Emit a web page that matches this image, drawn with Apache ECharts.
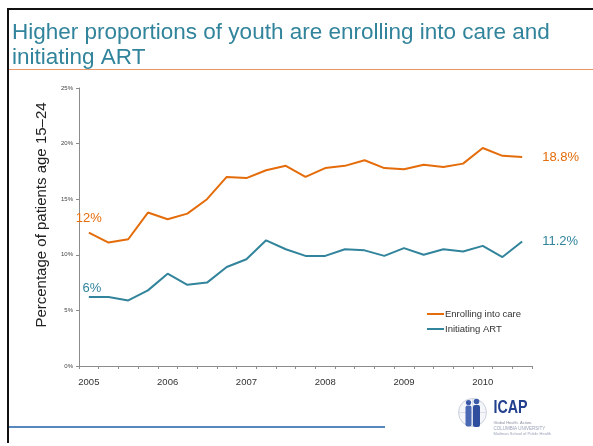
<!DOCTYPE html>
<html>
<head>
<meta charset="utf-8">
<script src="https://cdn.jsdelivr.net/npm/echarts@6/dist/echarts.min.js"></script>
<style>
  html, body { margin: 0; padding: 0; background: #ffffff; }
  #chart { width: 593px; height: 446px; }
</style>
</head>
<body>
<div id="chart"></div>
<script>
// Quarterly share of patients aged 15–24, 2005 Q1 – 2010 Q3
const quarters = [
  '2005Q1', '2005Q2', '2005Q3', '2005Q4',
  '2006Q1', '2006Q2', '2006Q3', '2006Q4',
  '2007Q1', '2007Q2', '2007Q3', '2007Q4',
  '2008Q1', '2008Q2', '2008Q3', '2008Q4',
  '2009Q1', '2009Q2', '2009Q3', '2009Q4',
  '2010Q1', '2010Q2', '2010Q3'
];
const enrolling = [12.0, 11.1, 11.4, 13.8, 13.2, 13.7, 15.0, 17.0, 16.9, 17.6, 18.0, 17.0,
                   17.8, 18.0, 18.5, 17.8, 17.7, 18.1, 17.9, 18.2, 19.6, 18.9, 18.8];
const initiating = [6.2, 6.2, 5.9, 6.8, 8.3, 7.3, 7.5, 8.9, 9.6, 11.3, 10.5, 9.9,
                    9.9, 10.5, 10.4, 9.9, 10.6, 10.0, 10.5, 10.3, 10.8, 9.8, 11.2];
const yTicks = [0, 5, 10, 15, 20, 25];
const seriesNames = ['Enrolling into care', 'Initiating ART'];

const ORANGE = '#E46C0A';
const TEAL = '#31849B';
const FONT = '"Liberation Sans", Arial, sans-serif';

// first point labelled as a whole percent, last point with one decimal
function withEndLabels(values, color, firstDist, firstOffset) {
  const last = values.length - 1;
  return values.map((v, i) => {
    if (i === 0) {
      return { value: v, label: { show: true, position: 'top', distance: firstDist, offset: firstOffset,
        formatter: Math.round(v) + '%', color: color, fontSize: 13, fontFamily: FONT } };
    }
    if (i === last) {
      return { value: v, label: { show: true, position: 'right', distance: 20,
        formatter: v.toFixed(1) + '%', color: color, fontSize: 13, fontFamily: FONT } };
    }
    return v;
  });
}

const chart = echarts.init(document.getElementById('chart'), null, { renderer: 'canvas' });

chart.setOption({
  animation: false,
  backgroundColor: '#ffffff',
  grid: { left: 79, right: 61, top: 88, bottom: 80, containLabel: false },
  legend: {
    data: seriesNames,
    orient: 'vertical',
    left: 422,
    top: 304,
    itemWidth: 17,
    itemHeight: 2,
    itemGap: 5,
    icon: 'rect',
    textStyle: { fontFamily: FONT, fontSize: 9.5, color: '#333', padding: [0, 0, 0, -4] }
  },
  xAxis: {
    type: 'category',
    data: quarters,
    boundaryGap: true,
    axisLine: { lineStyle: { color: '#8c8c8c', width: 1 } },
    axisTick: { show: true, interval: 0, length: 3, lineStyle: { color: '#8c8c8c' } },
    axisLabel: {
      interval: 3,
      margin: 11,
      fontFamily: FONT,
      fontSize: 9.5,
      color: '#333',
      formatter: (q) => q.slice(0, 4)
    },
    splitLine: { show: false }
  },
  yAxis: {
    type: 'value',
    min: yTicks[0],
    max: yTicks[yTicks.length - 1],
    interval: 5,
    axisLine: { show: true, lineStyle: { color: '#8c8c8c', width: 1 } },
    axisTick: { show: true, length: 3, lineStyle: { color: '#8c8c8c' } },
    axisLabel: { fontFamily: FONT, fontSize: 6, color: '#444', margin: 6, formatter: '{value}%' },
    splitLine: { show: false }
  },
  series: [
    {
      name: seriesNames[0],
      type: 'line',
      data: withEndLabels(enrolling, ORANGE, 8, [0, 0]),
      symbol: 'circle',
      symbolSize: 0,
      showSymbol: true,
      lineStyle: { color: ORANGE, width: 2 },
      itemStyle: { color: ORANGE }
    },
    {
      name: seriesNames[1],
      type: 'line',
      data: withEndLabels(initiating, TEAL, 2, [3, 0]),
      symbol: 'circle',
      symbolSize: 0,
      showSymbol: true,
      lineStyle: { color: TEAL, width: 2 },
      itemStyle: { color: TEAL }
    }
  ],
  graphic: [
    // slide frame
    { type: 'line', shape: { x1: 7, y1: 9, x2: 593, y2: 9 }, style: { stroke: '#111', lineWidth: 2 } },
    { type: 'line', shape: { x1: 8, y1: 8, x2: 8, y2: 443 }, style: { stroke: '#111', lineWidth: 2 } },
    { type: 'line', shape: { x1: 9, y1: 69.5, x2: 593, y2: 69.5 }, style: { stroke: '#E8956A', lineWidth: 1 } },
    { type: 'line', shape: { x1: 9, y1: 427, x2: 385, y2: 427 }, style: { stroke: '#1F5FA6', lineWidth: 1.5 } },
    // title
    { type: 'text', left: 12, top: 20,
      style: { text: 'Higher proportions of youth are enrolling into care and\ninitiating ART',
        fill: TEAL, font: '22.5px ' + FONT, lineHeight: 25 } },
    // y-axis title
    { type: 'text', x: 42, y: 215, rotation: Math.PI / 2,
      style: { text: 'Percentage of patients age 15–24', fill: '#222', font: '15px ' + FONT,
        align: 'center', verticalAlign: 'middle' } },
    // logo
    { type: 'group', left: 456, top: 396, children: [
      { type: 'circle', shape: { cx: 16, cy: 16, r: 14 }, style: { fill: '#f4f6fa', stroke: '#c9cfdc', lineWidth: 1 } },
      { type: 'line', shape: { x1: 2, y1: 16, x2: 30, y2: 16 }, style: { stroke: '#d3d8e3', lineWidth: 0.8 } },
      { type: 'line', shape: { x1: 16, y1: 2, x2: 16, y2: 30 }, style: { stroke: '#d3d8e3', lineWidth: 0.8 } },
      { type: 'circle', shape: { cx: 12, cy: 6, r: 2.6 }, style: { fill: '#3B5BA9' } },
      { type: 'circle', shape: { cx: 20, cy: 5, r: 2.8 }, style: { fill: '#3B5BA9' } },
      { type: 'rect', shape: { x: 9, y: 9, width: 6, height: 21, r: 2 }, style: { fill: '#4A69B5' } },
      { type: 'rect', shape: { x: 16.5, y: 8.5, width: 7, height: 22, r: 2 }, style: { fill: '#2F4F9E' } },
      { type: 'text', x: 37, y: 2, scaleX: 0.75, style: { text: 'ICAP', fill: '#23408E', font: 'bold 19px ' + FONT } },
      { type: 'text', x: 37, y: 24, style: { text: 'Global Health. Action.', fill: '#8a8fa0', font: '4px ' + FONT } },
      { type: 'text', x: 37, y: 30, style: { text: 'COLUMBIA UNIVERSITY', fill: '#9aa2b8', font: '4.5px ' + FONT } },
      { type: 'text', x: 37, y: 35, style: { text: 'Mailman School of Public Health', fill: '#9aa2b8', font: '4px ' + FONT } }
    ] }
  ]
});
</script>
</body>
</html>
